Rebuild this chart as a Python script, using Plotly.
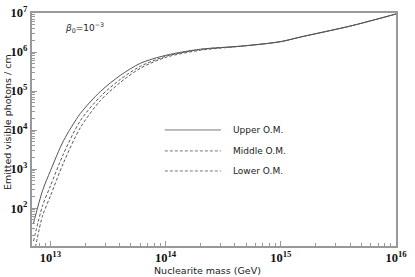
import plotly.graph_objects as go

# Nuclearite mass (GeV) and emitted visible photons / cm
mass_upper = [7.13e12, 8.53e12, 1.0e13, 1.30e13, 1.82e13, 2.72e13, 4.05e13, 6.04e13,
              1.01e14, 2.0e14, 4.45e14, 8.1e14, 1.05e15, 1.47e15, 4.0e15, 1.0e16]
photons_upper = [41.5, 277, 906, 5360, 26600, 98000, 253000, 515000,
                 828000, 1.18e6, 1.41e6, 1.69e6, 1.90e6, 2.41e6, 4.62e6, 9.42e6]

mass_middle = [7.13e12, 8.53e12, 1.0e13, 1.30e13, 1.82e13, 2.72e13, 4.05e13, 6.04e13,
               1.01e14, 2.0e14, 4.45e14, 8.1e14, 1.05e15, 1.47e15, 4.0e15, 1.0e16]
photons_middle = [14.3, 114, 372, 2480, 17500, 72900, 200000, 431000,
                  782000, 1.16e6, 1.41e6, 1.69e6, 1.90e6, 2.41e6, 4.62e6, 9.42e6]

mass_lower = [7.41e12, 8.53e12, 1.0e13, 1.30e13, 1.82e13, 2.72e13, 4.05e13, 6.04e13,
              1.01e14, 2.0e14, 4.45e14, 8.1e14, 1.05e15, 1.47e15, 4.0e15, 1.0e16]
photons_lower = [10.0, 62.8, 206, 1460, 11600, 57400, 167000, 384000,
                 736000, 1.11e6, 1.40e6, 1.69e6, 1.90e6, 2.41e6, 4.62e6, 9.42e6]

series_names = ["Upper O.M.", "Middle O.M.", "Lower O.M."]
series_dash = ["solid", "3px,2px", "3px,2px"]

x_title = "Nuclearite mass (GeV)"
y_title = "Emitted visible photons / cm"

fig = go.Figure()
for xs, ys, name, dash in zip([mass_upper, mass_middle, mass_lower],
                              [photons_upper, photons_middle, photons_lower],
                              series_names, series_dash):
    fig.add_trace(go.Scatter(x=xs, y=ys, mode="lines", name=name,
                             line=dict(color="#555555", width=1, dash=dash, shape="spline", smoothing=0.8),
                             showlegend=False))

txtfont = dict(family="DejaVu Sans", size=9.5, color="#222222")

# manual legend
leg_y = [0.498, 0.408, 0.322]
shapes = []
annotations = []
for name, dash, yy in zip(series_names, series_dash, leg_y):
    shapes.append(dict(type="line", xref="paper", yref="paper", x0=0.365, x1=0.519, y0=yy, y1=yy,
                       line=dict(color="#777777", width=1, dash=dash)))
    annotations.append(dict(xref="paper", yref="paper", x=0.547, y=yy, text=name, showarrow=False,
                            xanchor="left", yanchor="middle",
                            font=dict(family="DejaVu Sans", size=9, color="#222222")))

annotations.append(dict(xref="paper", yref="paper", x=0.085, y=0.936,
                        text="<i>β</i><sub>0</sub>=10<sup>−3</sup>", showarrow=False,
                        xanchor="left", yanchor="middle",
                        font=dict(family="DejaVu Sans", size=9, color="#222222")))

annotations.append(dict(xref="paper", yref="paper", x=0.4835, y=-0.107, text=x_title,
                        showarrow=False, xanchor="center", yanchor="middle", font=txtfont))
annotations.append(dict(xref="paper", yref="paper", x=-0.069, y=0.532, text=y_title,
                        showarrow=False, xanchor="center", yanchor="middle", textangle=-90,
                        font=txtfont))

tickfont = dict(family="Liberation Serif", size=10, color="#111111", weight="bold")

fig.update_layout(
    width=415, height=277,
    margin=dict(l=32, r=19, t=13, b=31),
    paper_bgcolor="white", plot_bgcolor="white",
    shapes=shapes, annotations=annotations,
    xaxis=dict(type="log", range=[12.84, 16], dtick=1, exponentformat="power",
               automargin=False,
               showgrid=False, zeroline=False, showline=True, mirror=True,
               linecolor="#999999", linewidth=1.5,
               ticks="inside", ticklen=5, tickcolor="#999999",
               minor=dict(ticks="inside", ticklen=3, tickcolor="#999999", showgrid=False),
               tickfont=tickfont, ticklabelstandoff=0),
    yaxis=dict(type="log", range=[1.03, 7.0], dtick=1, exponentformat="power",
               automargin=False,
               showgrid=False, zeroline=False, showline=True, mirror=True,
               linecolor="#999999", linewidth=1.5,
               ticks="inside", ticklen=5, tickcolor="#999999",
               minor=dict(ticks="inside", ticklen=3, tickcolor="#999999", showgrid=False),
               tickfont=tickfont, ticklabelstandoff=1),
)

fig.write_html("out.html", config={"displayModeBar": False})

# remove the default page margin so the figure sits at the window's top-left corner
with open("out.html", "r", encoding="utf-8") as f:
    html = f.read()
html = html.replace("<head>", "<head><style>html,body{margin:0;padding:0;overflow:hidden;}</style>", 1)
with open("out.html", "w", encoding="utf-8") as f:
    f.write(html)
